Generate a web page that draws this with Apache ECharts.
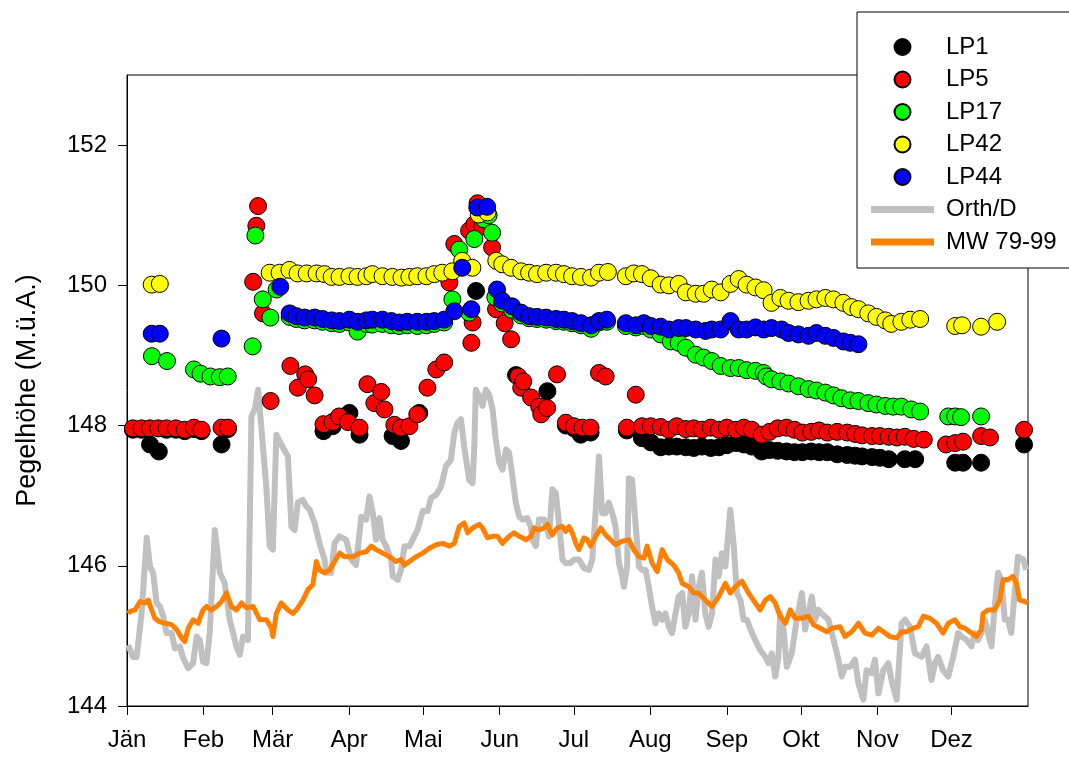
<!DOCTYPE html>
<html>
<head>
<meta charset="utf-8">
<script src="https://cdn.jsdelivr.net/npm/echarts@6/dist/echarts.min.js"></script>
<style>
html,body{margin:0;padding:0;background:#fff;}
#chart{width:1069px;height:758px;}
</style>
</head>
<body>
<div id="chart"></div>
<script>
// Month ticks (day of year) and labels
const monthStarts = [0, 31, 59, 90, 120, 151, 181, 212, 243, 273, 304, 334];
const monthLabels = ['Jän', 'Feb', 'Mär', 'Apr', 'Mai', 'Jun', 'Jul', 'Aug', 'Sep', 'Okt', 'Nov', 'Dez'];
const yTicks = [144, 146, 148, 150, 152];

// Observation wells: [day of year, level]
const lp1 = [[2.4,147.94],[5.9,147.94],[9.3,147.73],[12.9,147.63],[16.0,147.94],[19.8,147.94],[23.4,147.92],[27.1,147.95],[30.2,147.92],[38.3,147.73],[40.9,147.95],
[79.6,147.92],[83.3,147.99],[90.1,148.18],[94.2,147.87],[107.6,147.85],[111.0,147.78],[118.4,148.18],[141.4,149.92],[157.6,148.72],[170.3,148.49],[177.8,148.00],[181.1,147.96],[183.8,147.87],[187.8,147.90],
[202.5,147.93],[208.6,147.82],[212.2,147.76],[216.2,147.69],[219.5,147.70],[222.7,147.70],[226.4,147.69],[229.6,147.68],[232.9,147.70],[236.5,147.68],[239.8,147.69],[243.0,147.72],[246.7,147.75],[249.9,147.73],[253.1,147.70],[257.1,147.63],[260.3,147.65],[263.6,147.64],[267.2,147.63],[270.4,147.62],[273.6,147.62],[277.2,147.63],[280.4,147.62],[283.7,147.62],[287.7,147.59],[291.8,147.58],[295.0,147.57],[297.8,147.56],[301.8,147.55],[305.0,147.54],[308.6,147.52],[315.1,147.52],[319.3,147.52],[335.5,147.47],[338.7,147.47],[346.0,147.47],[363.4,147.73]];

const lp5 = [[2.4,147.96],[5.9,147.96],[9.3,147.96],[12.7,147.96],[16.0,147.96],[19.8,147.96],[23.4,147.94],[27.1,147.97],[30.2,147.94],[38.3,147.97],[40.9,147.97],
[51.1,150.05],[52.4,150.85],[53.1,151.13],[55.1,149.60],[58.2,148.35],[66.2,148.85],[69.2,148.54],[72.2,148.73],[73.4,148.66],[76.0,148.43],[79.6,148.02],[83.3,148.05],[85.9,148.13],[89.5,148.05],[94.2,147.97],[97.4,148.59],[100.2,148.32],[103.0,148.48],[104.3,148.23],[108.3,148.01],[111.0,147.97],[114.4,147.99],[117.6,148.16],[121.7,148.54],[125.3,148.80],[128.5,148.90],[130.6,150.04],[132.6,150.59],[138.6,150.78],[139.5,149.18],[140.0,149.47],[140.7,150.87],[142.0,151.17],[143.9,150.84],[147.9,150.54],[149.5,149.66],[153.0,149.46],[155.6,149.23],[158.5,148.70],[159.7,148.54],[160.5,148.63],[163.7,148.40],[167.0,148.27],[167.8,148.16],[170.2,148.25],[174.2,148.73],[177.8,148.04],[181.1,147.99],[184.5,147.97],[187.8,147.97],[191.2,148.75],[193.9,148.70],
[202.5,147.97],[206.1,148.44],[208.6,147.99],[212.2,147.99],[216.2,147.98],[219.5,147.94],[222.7,147.99],[226.4,147.95],[229.6,147.96],[232.9,147.94],[236.5,147.97],[239.8,147.94],[243.0,147.97],[246.7,147.94],[249.9,147.97],[253.1,147.94],[257.1,147.87],[260.3,147.91],[263.6,147.96],[267.2,147.97],[270.4,147.94],[273.6,147.90],[277.2,147.91],[280.4,147.93],[283.7,147.90],[287.7,147.91],[291.8,147.90],[295.0,147.88],[297.8,147.86],[301.8,147.85],[305.0,147.85],[308.6,147.84],[311.9,147.83],[315.1,147.84],[318.7,147.81],[322.8,147.80],[331.8,147.73],[335.5,147.75],[338.7,147.77],[346.0,147.85],[349.6,147.83],[363.4,147.94]];

const lp17 = [[10.1,148.99],[16.2,148.92],[27.1,148.80],[29.8,148.74],[33.8,148.70],[37.6,148.69],[40.8,148.70],[50.9,149.13],[52.0,150.71],[55.0,149.80],[58.1,149.54],[60.6,149.94],[65.9,149.55],[68.6,149.52],[71.9,149.50],[76.0,149.50],[79.2,149.48],[82.9,149.46],[86.1,149.45],[90.1,149.47],[93.4,149.34],[97.0,149.45],[99.4,149.44],[103.5,149.45],[107.1,149.43],[110.3,149.42],[113.6,149.43],[117.6,149.42],[121.3,149.43],[124.5,149.45],[128.5,149.47],[131.8,149.80],[134.6,150.51],[138.6,149.61],[140.7,150.66],[144.7,150.94],[146.5,151.00],[147.9,150.75],[149.2,149.83],[152.0,149.74],[156.0,149.65],[159.7,149.57],[162.9,149.53],[166.1,149.52],[169.8,149.51],[173.8,149.49],[177.0,149.48],[180.3,149.46],[183.9,149.43],[188.0,149.38],[191.2,149.47],[194.4,149.48],
[202.1,149.42],[206.1,149.40],[209.4,149.42],[212.2,149.37],[216.2,149.30],[220.3,149.20],[223.5,149.18],[226.4,149.11],[230.4,149.01],[233.6,148.97],[236.9,148.92],[240.5,148.85],[244.5,148.82],[247.8,148.82],[251.0,148.79],[254.6,148.78],[257.9,148.75],[259.0,148.70],[261.1,148.66],[264.7,148.63],[268.0,148.60],[272.0,148.56],[276.1,148.52],[279.3,148.50],[282.9,148.47],[286.2,148.43],[289.4,148.39],[293.0,148.36],[296.3,148.35],[300.3,148.32],[303.6,148.30],[307.2,148.28],[310.4,148.27],[313.7,148.27],[317.7,148.23],[321.3,148.20],[332.7,148.13],[335.5,148.13],[337.9,148.12],[346.0,148.13]];

const lp42 = [[10.0,150.01],[13.3,150.02],[57.8,150.18],[61.8,150.18],[65.8,150.22],[69.1,150.17],[72.8,150.17],[76.8,150.17],[80.0,150.16],[82.9,150.12],[86.1,150.12],[90.1,150.13],[93.4,150.12],[97.0,150.13],[99.4,150.16],[103.5,150.13],[107.5,150.12],[111.2,150.11],[114.4,150.12],[117.6,150.13],[121.3,150.13],[124.5,150.16],[127.7,150.18],[131.8,150.20],[135.8,150.35],[139.9,150.25],[142.5,151.01],[146.0,151.04],
[149.6,150.35],[152.0,150.30],[155.6,150.25],[159.7,150.20],[162.9,150.18],[166.1,150.16],[169.8,150.18],[173.8,150.18],[177.0,150.16],[180.3,150.13],[183.9,150.12],[188.0,150.11],[191.2,150.18],[194.8,150.19],
[202.1,150.13],[205.3,150.17],[208.6,150.16],[212.2,150.10],[216.2,150.01],[219.5,150.00],[223.5,150.02],[226.4,149.90],[230.4,149.88],[233.6,149.88],[236.9,149.94],[240.5,149.90],[244.5,150.02],[247.8,150.09],[251.0,150.01],[254.6,149.97],[257.9,149.93],[261.1,149.75],[264.7,149.82],[268.0,149.78],[272.0,149.76],[276.1,149.78],[279.3,149.80],[282.9,149.82],[286.2,149.80],[290.2,149.75],[293.4,149.69],[296.3,149.66],[300.3,149.60],[303.6,149.55],[307.2,149.50],[309.6,149.45],[313.7,149.48],[317.3,149.51],[321.3,149.52],[335.5,149.42],[338.3,149.43],[346.0,149.41],[352.5,149.48]];

const lp44 = [[10.0,149.31],[13.3,149.31],[38.3,149.24],[62.1,149.98],[65.9,149.60],[68.6,149.56],[71.9,149.54],[76.0,149.54],[79.2,149.52],[82.9,149.50],[86.1,149.49],[90.1,149.51],[93.4,149.48],[97.0,149.50],[99.4,149.51],[103.5,149.51],[107.1,149.49],[110.3,149.47],[113.6,149.48],[117.6,149.48],[121.3,149.48],[124.5,149.49],[128.5,149.51],[132.6,149.63],[135.8,150.25],[139.5,149.66],[141.9,151.11],[145.9,151.12],
[149.9,149.94],[152.0,149.78],[156.0,149.70],[159.7,149.61],[162.9,149.56],[166.1,149.55],[169.8,149.54],[173.8,149.52],[177.0,149.51],[180.3,149.49],[183.9,149.46],[188.0,149.43],[191.2,149.49],[194.4,149.51],
[202.1,149.46],[206.1,149.43],[209.4,149.46],[212.2,149.42],[216.2,149.41],[219.5,149.37],[223.5,149.39],[226.4,149.39],[230.4,149.37],[234.4,149.35],[236.9,149.37],[240.5,149.37],[244.5,149.49],[247.8,149.37],[251.0,149.37],[254.6,149.40],[257.9,149.37],[261.1,149.39],[265.2,149.37],[268.0,149.32],[272.0,149.30],[276.1,149.28],[279.3,149.32],[282.9,149.28],[286.2,149.25],[290.2,149.20],[293.0,149.18],[296.3,149.16]];

// Daily river stage Orth/Donau
const orthD = [[0.5,144.87],[2.4,144.70],[3.9,144.70],[5.9,145.32],[8.0,146.40],[9.3,145.99],[10.6,145.90],[12.0,145.47],[13.3,145.42],[14.7,145.28],[16.0,145.04],[18.1,145.04],[19.4,144.82],[21.4,144.85],[22.8,144.68],[24.8,144.54],[26.8,144.61],[28.2,144.99],[29.5,144.94],[30.8,144.63],[32.2,144.61],[33.5,145.04],[35.6,146.51],[37.6,145.90],[39.6,145.75],[41.6,145.23],[43.0,145.04],[44.3,144.85],[45.7,144.73],[47.0,144.99],[49.0,144.94],[50.4,148.13],[51.7,148.23],[53.1,148.51],[54.4,147.99],[56.5,147.09],[57.8,146.28],[59.1,146.23],[60.5,147.87],[62.5,147.73],[65.2,147.56],[66.6,146.56],[67.9,146.51],[69.2,146.90],[71.3,146.94],[72.6,146.85],[74.0,146.80],[76.0,146.61],[78.0,146.32],[80.0,146.09],[80.7,145.90],[82.7,145.90],[84.1,146.32],[86.1,146.42],[88.8,146.37],[90.8,146.09],[92.8,146.01],[94.9,146.70],[96.9,146.66],[98.2,146.99],[99.6,146.75],[100.9,146.37],[102.3,146.68],[103.6,146.37],[105.0,146.28],[107.0,146.09],[107.7,145.85],[109.7,145.80],[111.0,145.94],[112.4,146.28],[114.4,146.28],[115.7,146.37],[117.7,146.51],[119.8,146.78],[121.8,146.78],[123.2,146.97],[125.2,147.01],[127.2,147.13],[129.2,147.42],[131.2,147.51],[132.6,147.90],[133.9,148.04],[135.3,148.09],[136.6,147.70],[138.6,147.23],[140.0,147.18],[140.7,147.70],[141.3,148.51],[142.7,148.42],[144.0,148.28],[145.4,148.51],[146.7,148.44],[148.1,148.23],[149.4,147.80],[150.8,147.47],[152.1,147.37],[153.5,147.66],[154.8,147.61],[156.1,147.28],[157.5,146.90],[158.9,146.70],[160.2,146.66],[162.2,146.68],[163.6,146.56],[164.2,146.37],[165.6,146.28],[166.9,146.66],[169.0,146.66],[171.0,146.42],[172.3,147.09],[173.7,147.04],[175.0,146.61],[176.4,146.09],[177.7,146.04],[179.7,146.04],[181.1,146.09],[183.1,146.09],[185.1,145.97],[187.1,145.94],[188.5,146.09],[189.9,146.80],[191.2,147.56],[192.5,146.75],[193.9,146.75],[195.2,146.90],[196.6,146.75],[197.9,146.56],[199.3,146.04],[200.6,145.85],[201.3,145.70],[202.6,145.99],[203.3,147.25],[204.6,147.23],[206.0,146.61],[207.4,145.99],[208.7,145.94],[210.1,145.94],[211.4,145.70],[212.7,145.42],[214.1,145.18],[215.4,145.32],[216.8,145.23],[218.1,145.32],[219.5,145.13],[220.8,145.04],[222.2,145.32],[223.5,145.56],[224.9,145.61],[226.2,145.13],[227.6,145.32],[228.9,145.85],[230.3,145.23],[231.6,145.70],[232.9,145.90],[234.3,145.32],[235.6,145.13],[237.0,145.32],[238.4,146.09],[239.7,145.85],[241.0,146.18],[242.4,145.99],[244.4,146.80],[245.8,146.28],[247.1,145.61],[248.5,145.51],[249.8,145.23],[251.1,145.23],[253.2,145.04],[254.5,144.94],[256.5,144.80],[258.6,144.70],[259.9,144.61],[261.2,144.75],[262.6,144.42],[263.9,144.70],[264.6,145.32],[266.0,145.09],[267.3,144.56],[269.3,144.75],[271.3,145.23],[273.4,145.61],[274.7,145.09],[277.4,145.56],[278.8,145.23],[280.1,145.37],[281.4,145.32],[284.2,145.23],[286.9,144.85],[288.2,144.66],[289.5,144.42],[290.9,144.56],[292.9,144.56],[294.9,144.66],[296.3,144.32],[298.3,144.09],[299.6,144.51],[301.7,144.47],[303.0,144.66],[304.4,144.18],[306.4,144.51],[308.4,144.61],[309.7,144.37],[311.8,144.09],[312.4,144.42],[313.8,145.18],[315.2,145.23],[317.2,145.13],[319.2,144.75],[321.9,144.70],[323.9,144.85],[325.9,144.37],[327.3,144.61],[328.6,144.70],[330.6,144.51],[332.7,144.42],[334.7,144.70],[336.7,145.04],[338.0,144.99],[340.1,144.94],[342.1,144.85],[343.4,145.04],[344.8,144.94],[346.1,145.04],[347.5,145.23],[348.8,145.04],[350.2,144.85],[351.5,145.42],[352.9,145.90],[354.2,145.80],[355.6,145.23],[356.9,145.23],[358.2,145.04],[359.6,145.61],[360.9,146.13],[363.0,146.09],[364.3,145.94]];

// Mean water level 1979-1999
const mw7999 = [[0.4,145.32],[1.2,145.35],[3.2,145.37],[5.3,145.49],[7.3,145.47],[8.6,145.51],[10.0,145.37],[11.3,145.25],[13.3,145.20],[15.4,145.18],[18.1,145.16],[20.1,145.09],[22.1,144.97],[23.4,144.92],[24.8,145.11],[26.8,145.23],[28.8,145.18],[30.8,145.37],[32.2,145.42],[34.2,145.37],[36.3,145.42],[38.3,145.49],[40.3,145.61],[42.3,145.42],[44.3,145.37],[46.4,145.47],[48.4,145.40],[51.1,145.42],[53.8,145.23],[56.5,145.23],[58.5,145.11],[59.1,144.99],[60.5,145.32],[62.5,145.47],[65.2,145.37],[67.2,145.32],[68.6,145.37],[71.3,145.51],[73.3,145.66],[75.3,145.73],[76.7,146.06],[78.0,145.94],[80.0,145.90],[82.1,145.94],[84.1,146.06],[86.1,146.18],[88.1,146.13],[91.5,146.13],[94.2,146.18],[96.9,146.20],[98.9,146.28],[100.9,146.23],[103.6,146.18],[106.3,146.13],[109.0,146.06],[111.0,146.09],[112.4,146.01],[114.4,146.06],[117.1,146.13],[119.8,146.18],[122.5,146.25],[125.2,146.30],[127.8,146.32],[130.6,146.28],[132.6,146.32],[134.6,146.56],[136.6,146.61],[138.0,146.47],[140.0,146.54],[142.7,146.59],[144.0,146.54],[146.0,146.40],[148.1,146.42],[150.1,146.42],[152.1,146.32],[154.8,146.42],[156.8,146.47],[158.9,146.42],[161.6,146.37],[163.6,146.42],[164.9,146.54],[166.9,146.51],[169.0,146.54],[170.3,146.59],[172.3,146.44],[174.3,146.54],[176.4,146.56],[177.7,146.49],[179.1,146.56],[180.4,146.47],[181.8,146.32],[183.1,146.23],[185.1,146.40],[186.5,146.37],[187.8,146.28],[189.9,146.42],[191.9,146.54],[193.9,146.44],[195.9,146.37],[197.9,146.30],[200.6,146.35],[203.3,146.37],[205.3,146.23],[207.4,146.13],[209.4,146.11],[210.7,146.28],[212.7,146.04],[214.8,145.92],[216.8,146.23],[218.8,146.09],[221.5,146.01],[223.5,145.90],[224.9,145.75],[227.6,145.70],[229.6,145.61],[231.6,145.61],[234.3,145.51],[237.0,145.42],[239.7,145.56],[242.4,145.75],[244.4,145.61],[246.4,145.70],[249.1,145.78],[251.8,145.61],[254.5,145.47],[256.5,145.37],[258.6,145.51],[260.6,145.56],[262.6,145.47],[264.6,145.28],[266.7,145.18],[268.7,145.37],[270.7,145.25],[273.4,145.25],[276.1,145.28],[278.1,145.16],[280.8,145.11],[283.5,145.06],[285.5,145.11],[288.9,145.13],[290.9,144.99],[293.6,145.06],[296.3,145.18],[299.0,145.04],[301.7,145.01],[304.4,145.11],[307.1,145.04],[309.1,144.99],[311.8,144.97],[313.8,145.06],[315.8,145.06],[318.5,145.11],[320.5,145.13],[322.6,145.28],[325.3,145.25],[327.9,145.18],[330.6,145.04],[332.7,145.18],[335.4,145.23],[337.4,145.13],[339.4,145.11],[342.1,145.04],[344.1,144.99],[346.1,145.09],[346.8,145.32],[348.8,145.37],[351.5,145.37],[353.6,145.51],[354.9,145.80],[356.9,145.80],[358.9,145.85],[360.3,145.75],[361.6,145.51],[363.7,145.49],[365.0,145.47]];

const FONT = 'Liberation Sans, Arial, Helvetica, sans-serif';
const chart = echarts.init(document.getElementById('chart'), null, {renderer: 'canvas'});

function scatter(name, data, color) {
  return {
    name: name, type: 'scatter', data: data, symbol: 'circle', symbolSize: 17,
    itemStyle: {color: color, borderColor: '#000', borderWidth: 1, opacity: 1},
    z: 3, animation: false
  };
}

const lineIcon = 'path://M0,0L63,0L63,7L0,7Z';

chart.setOption({
  backgroundColor: '#fff',
  animation: false,
  grid: {left: 127, right: 41, top: 75, bottom: 52, show: true, borderColor: '#000', borderWidth: 1, backgroundColor: 'transparent'},
  xAxis: {
    type: 'value', min: 0, max: 365,
    splitLine: {show: false},
    axisLine: {show: true, onZero: false, lineStyle: {color: '#000', width: 1}},
    axisTick: {show: true, inside: false, length: 9, customValues: monthStarts, lineStyle: {color: '#000'}},
    axisLabel: {
      customValues: monthStarts, margin: 22, color: '#000', fontSize: 24, fontFamily: FONT,
      formatter: function (v) { const i = monthStarts.indexOf(v); return i >= 0 ? monthLabels[i] : ''; }
    }
  },
  yAxis: {
    type: 'value', min: 144, max: 153, interval: 2,
    name: 'Pegelhöhe (M.ü.A.)', nameLocation: 'middle', nameGap: 86, nameRotate: 90,
    nameTextStyle: {fontSize: 27, color: '#000', fontFamily: FONT},
    splitLine: {show: false},
    axisLine: {show: true, onZero: false, lineStyle: {color: '#000', width: 1}},
    axisTick: {show: true, inside: false, length: 9, customValues: yTicks, lineStyle: {color: '#000'}},
    axisLabel: {customValues: yTicks, margin: 20, color: '#000', fontSize: 24, fontFamily: FONT}
  },
  legend: {
    orient: 'vertical', left: 857, top: 12,
    itemWidth: 63, itemHeight: 16, itemGap: 8.5,
    padding: [23, 40, 14, 14],
    backgroundColor: '#fff', borderColor: '#000', borderWidth: 1, borderRadius: 0,
    textStyle: {fontSize: 24, lineHeight: 24, color: '#000', fontFamily: FONT, padding: [0, 0, 0, 7]},
    selectedMode: false, z: 10,
    data: [
      {name: 'LP1', icon: 'circle'},
      {name: 'LP5', icon: 'circle'},
      {name: 'LP17', icon: 'circle'},
      {name: 'LP42', icon: 'circle'},
      {name: 'LP44', icon: 'circle'},
      {name: 'Orth/D', icon: lineIcon, itemStyle: {color: '#c0c0c0', borderWidth: 0}},
      {name: 'MW 79-99', icon: lineIcon, itemStyle: {color: '#ff8000', borderWidth: 0}}
    ]
  },
  series: [
    {name: 'Orth/D', type: 'line', data: orthD, showSymbol: false, symbol: 'none', color: '#c0c0c0',
     lineStyle: {color: '#c0c0c0', width: 6, join: 'round'}, z: 1, animation: false},
    {name: 'MW 79-99', type: 'line', data: mw7999, showSymbol: false, symbol: 'none', color: '#ff8000',
     lineStyle: {color: '#ff8000', width: 5, join: 'round'}, z: 2, animation: false},
    scatter('LP1', lp1, '#000000'),
    scatter('LP5', lp5, '#ff0000'),
    scatter('LP17', lp17, '#00ff00'),
    scatter('LP42', lp42, '#ffff00'),
    scatter('LP44', lp44, '#0000ff')
  ]
});
</script>
</body>
</html>
